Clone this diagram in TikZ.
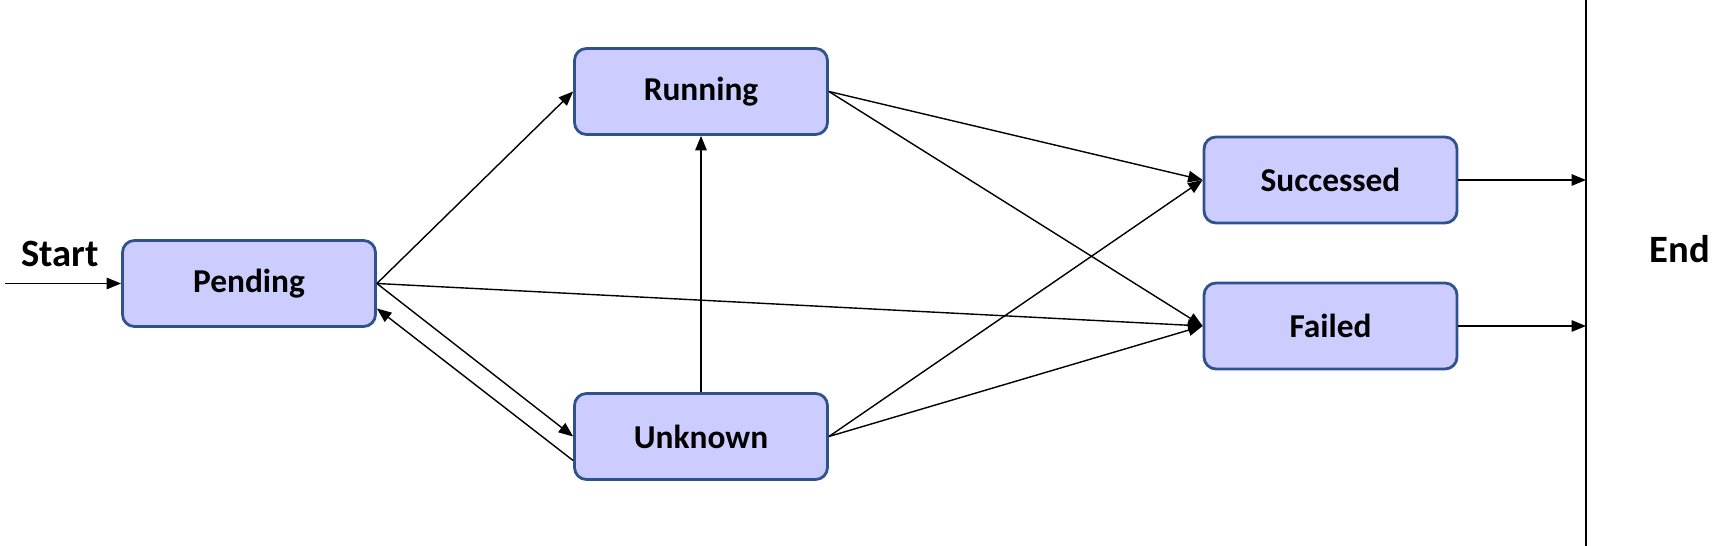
\documentclass[tikz,border=0pt]{standalone}
\usepackage{fontspec}
\setmainfont{Carlito}
\usepackage{xcolor}
\usetikzlibrary{arrows.meta}

\definecolor{statefill}{RGB}{204,204,255}
\definecolor{stateline}{RGB}{47,82,143}

\begin{document}
\begin{tikzpicture}[>={Triangle[length=1.45mm,width=1.15mm]},
    state/.style={draw=stateline, line width=0.8pt, fill=statefill,
      rounded corners=0.12cm, minimum width=2.53cm, minimum height=0.86cm,
      inner sep=0pt, font=\fontsize{9.5}{11}\selectfont\bfseries},
    link/.style={->, line width=0.4pt},
    lbl/.style={font=\fontsize{11}{13}\selectfont\bfseries, inner sep=0pt}]
  \useasboundingbox (0,0) rectangle (17.30,5.46);
  % states
  \node[state] (pending) at (2.49, 2.625) {Pending};
  \node[state] (running) at (7.01, 4.545) {Running};
  \node[state] (unknown) at (7.01, 1.095) {Unknown};
  \node[state] (successed) at (13.305, 3.66) {Successed};
  \node[state] (failed) at (13.305, 2.20) {Failed};
  % start and end
  \node[lbl] (start) at (0.60, 2.92) {Start};
  \coordinate (in) at (0.05, 2.625);
  \draw[line width=0.5pt] (15.86,0) -- (15.86,5.46);
  \node[lbl] (end) at (16.80, 2.97) {End};
  \coordinate (out1) at (15.86, 3.66);
  \coordinate (out2) at (15.86, 2.20);
  % transitions
  \draw[link] (in) -- (pending.west);
  \draw[link] (pending.east) -- (running.west);
  \draw[link] (pending.east) -- (unknown.west);
  \draw[link] ([yshift=-0.24cm]unknown.west) -- ([yshift=-0.25cm]pending.east);
  \draw[link] (pending.east) -- (failed.west);
  \draw[link] (unknown.north) -- (running.south);
  \draw[link] (running.east) -- (successed.west);
  \draw[link] (running.east) -- (failed.west);
  \draw[link] (unknown.east) -- (successed.west);
  \draw[link] (unknown.east) -- (failed.west);
  \draw[link] (successed.east) -- (out1);
  \draw[link] (failed.east) -- (out2);
\end{tikzpicture}
\end{document}
